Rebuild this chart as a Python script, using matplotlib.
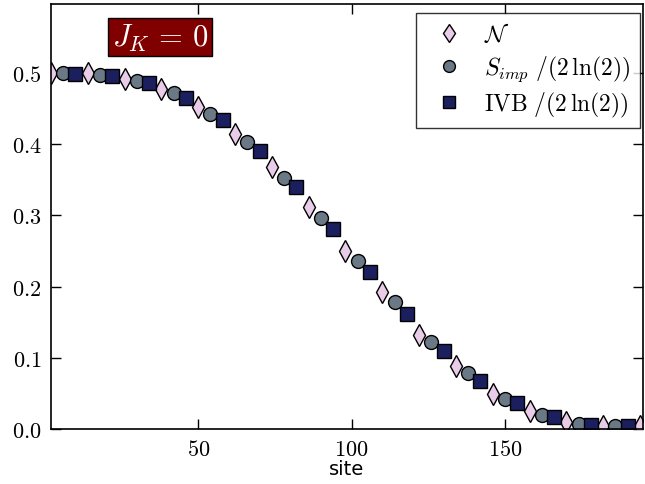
import matplotlib
matplotlib.use('Agg')
import matplotlib.pyplot as plt
from matplotlib.ticker import FuncFormatter

plt.rcParams['mathtext.fontset'] = 'cm'

# данные: три ряда, каждый через 12 узлов
site_n = [2, 14, 26, 38, 50, 62, 74, 86, 98, 110, 122, 134, 146, 158, 170, 182, 194]
val_n = [0.500, 0.500, 0.492, 0.478, 0.452, 0.415, 0.368, 0.312, 0.250, 0.192,
         0.132, 0.088, 0.050, 0.025, 0.010, 0.005, 0.004]

site_s = [6, 18, 30, 42, 54, 66, 78, 90, 102, 114, 126, 138, 150, 162, 174, 186]
val_s = [0.500, 0.497, 0.489, 0.472, 0.442, 0.403, 0.352, 0.296, 0.236, 0.178,
         0.122, 0.079, 0.043, 0.020, 0.007, 0.004]

site_ivb = [10, 22, 34, 46, 58, 70, 82, 94, 106, 118, 130, 142, 154, 166, 178, 190]
val_ivb = [0.499, 0.496, 0.486, 0.465, 0.434, 0.390, 0.340, 0.281, 0.221, 0.162,
           0.110, 0.067, 0.037, 0.017, 0.006, 0.004]

labels = [r'$\mathcal{N}$', r'$S_{imp}\ /(2\,\ln(2))$', r'$\mathrm{IVB}\ /(2\,\ln(2))$']

fig = plt.figure(figsize=(6.45, 4.85), dpi=100)
ax = fig.add_axes([0.079, 0.113, 0.918, 0.877])

ax.plot(site_n, val_n, 'd', color='#e8cce8', mec='black', mew=1.0, ms=11, label=labels[0])
ax.plot(site_s, val_s, 'o', color='#6b7987', mec='black', mew=1.0, ms=10, label=labels[1])
ax.plot(site_ivb, val_ivb, 's', color='#1b1f5e', mec='black', mew=1.0, ms=9.5, label=labels[2])

ax.set_xlim(2, 195)
ax.set_ylim(0, 0.597)
ax.set_xticks([50, 100, 150])
ax.set_yticks([0.0, 0.1, 0.2, 0.3, 0.4, 0.5])
ax.xaxis.set_major_formatter(FuncFormatter(lambda v, p: r'$%d$' % v))
ax.yaxis.set_major_formatter(FuncFormatter(lambda v, p: r'$%.1f$' % v))
ax.tick_params(direction='in', top=True, right=True, length=7, width=1, labelsize=16, pad=7)
for s in ax.spines.values():
    s.set_linewidth(1.2)

ax.set_xlabel('site', fontsize=14, labelpad=0)

leg = ax.legend(loc='upper right', bbox_to_anchor=(0.995, 0.979), fontsize=17,
                frameon=True, fancybox=False, numpoints=1, markerscale=0.85,
                borderaxespad=0, handlelength=2.0, handletextpad=0.5,
                labelspacing=0.3, borderpad=0.4)
leg.get_frame().set_edgecolor('black')
leg.get_frame().set_linewidth(1.0)

ax.text(0.184, 0.922, r'$J_K\,=\,0$', transform=ax.transAxes, fontsize=22, color='white',
        ha='center', va='center',
        bbox=dict(boxstyle='square,pad=0.12', facecolor='#800000', edgecolor='black'))

fig.savefig('out.png', dpi=100)
